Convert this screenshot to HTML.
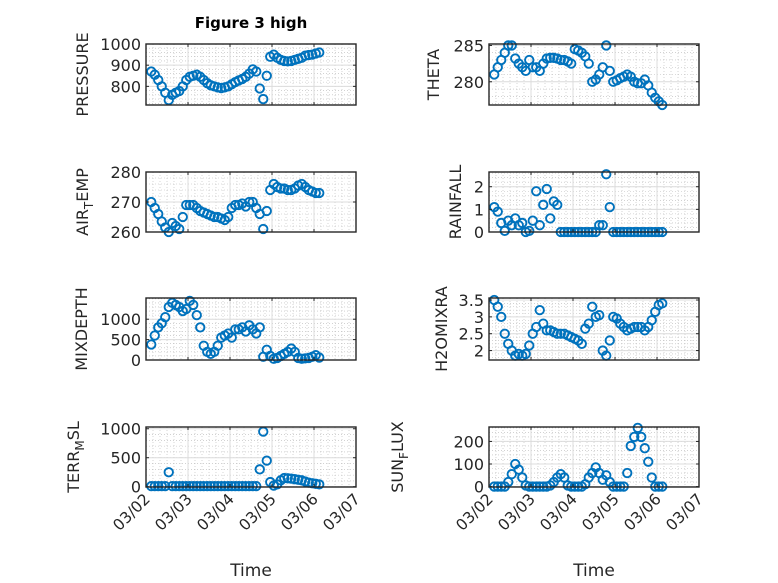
<!DOCTYPE html>
<html><head><meta charset="utf-8"><style>
html,body{margin:0;padding:0;background:#fff;}
svg{display:block;font-family:"DejaVu Sans","Liberation Sans",sans-serif;}
</style></head><body>
<svg id="fig" width="778" height="583" viewBox="0 0 778 583">
<rect width="778" height="583" fill="#fff"/>
<text x="251" y="28" text-anchor="middle" font-size="15" font-weight="bold" fill="#000">Figure 3 high</text>
</svg>
<script>
const tickLabels = ["03/02","03/03","03/04","03/05","03/06","03/07"];
const tStart = 0.125, tStep = 1/12;
const pressure = [870,855,830,800,770,735,760,770,778,800,830,845,850,855,845,830,815,805,800,795,792,795,800,810,820,828,835,845,860,880,870,790,740,850,940,950,935,925,920,918,920,925,930,935,945,948,950,955,960];
const theta = [281,282,283,284,285,285,283.2,282.5,282,281.5,283,282,282,281.5,282.5,283.2,283.3,283.3,283.2,283,283,282.8,282.5,284.5,284.3,284,283.5,282.5,280,280.3,281,282,285,281.5,280,280.2,280.5,280.7,281,280.7,280,279.8,279.8,280.3,279.5,278.5,277.8,277.3,276.8];
const airTemp = [270,268,266,263.5,261.5,260,263,262,261,265,269,269,269,268,267,266.5,266,265.5,265,265,264.5,264,265,268,269,269,269.5,268.5,270,270,268,266,261,267,274,276,275,274.5,274.5,274,274,274.5,275.5,276,275,274,273.5,273,273];
const rainfall = [1.1,0.9,0.4,0.05,0.5,0.3,0.6,0.3,0.4,0,0.05,0.5,1.8,0.3,1.2,1.9,0.6,1.35,1.2,0,0,0,0,0,0,0,0,0,0,0,0.3,0.3,2.55,1.1,0,0,0,0,0,0,0,0,0,0,0,0,0,0,0];
const mixDepth = [380,600,800,900,1050,1300,1400,1350,1300,1200,1250,1450,1350,1100,800,350,200,150,200,350,550,600,650,550,750,750,800,700,850,750,650,800,80,250,100,30,50,100,150,200,280,200,50,30,40,50,80,120,60];
const h2oMix = [3.5,3.3,3.0,2.5,2.2,2.0,1.85,1.9,1.85,1.9,2.15,2.5,2.7,3.2,2.8,2.6,2.6,2.55,2.5,2.5,2.5,2.45,2.4,2.35,2.3,2.2,2.65,2.8,3.3,3.0,3.05,2.0,1.85,2.3,3.0,2.95,2.8,2.7,2.6,2.65,2.7,2.7,2.7,2.6,2.7,2.9,3.15,3.35,3.4];
const terrMsl = [10,10,10,10,10,250,10,10,10,10,10,10,10,10,10,10,10,10,10,10,10,10,10,10,10,10,10,10,10,10,10,300,950,450,80,20,40,110,150,145,140,130,120,110,90,70,60,50,40];
const sunFlux = [0,0,0,0,20,55,100,75,40,5,0,0,0,0,0,0,5,20,40,55,40,5,0,0,0,0,10,40,60,85,60,30,50,20,0,0,0,0,60,180,220,260,220,170,110,40,0,0,0];

const NS="http://www.w3.org/2000/svg";
const svg=document.getElementById('fig');
function mk(tag,attrs,parent){const e=document.createElementNS(NS,tag);for(const k in attrs)e.setAttribute(k,attrs[k]);(parent||svg).appendChild(e);return e;}

const panels=[
 {name:'pressure',data:pressure,x0:146,y0:44,y1:105,ymin:712,ymax:1000,ticks:[800,900,1000],minor:20,label:['PRESSURE'],lx:88,xt:false},
 {name:'theta',data:theta,x0:489,y0:44,y1:105,ymin:276.8,ymax:285.2,ticks:[280,285],minor:1,label:['THETA'],lx:439,xt:false},
 {name:'air-temp',data:airTemp,x0:146,y0:172,y1:232,ymin:260,ymax:280,ticks:[260,270,280],minor:2,label:['AIR','T','EMP'],lx:88,xt:false},
 {name:'rainfall',data:rainfall,x0:489,y0:172,y1:232,ymin:0,ymax:2.65,ticks:[0,1,2],minor:0.2,label:['RAINFALL'],lx:461,xt:false},
 {name:'mixdepth',data:mixDepth,x0:146,y0:298,y1:360,ymin:0,ymax:1520,ticks:[0,500,1000],minor:100,label:['MIXDEPTH'],lx:87,xt:false},
 {name:'h2omixra',data:h2oMix,x0:489,y0:298,y1:360,ymin:1.72,ymax:3.56,ticks:[2,2.5,3,3.5],minor:0.1,label:['H2OMIXRA'],lx:447,xt:false},
 {name:'terr-msl',data:terrMsl,x0:146,y0:427,y1:487,ymin:-5,ymax:1030,ticks:[0,500,1000],minor:100,label:['TERR','M','SL'],lx:79,xt:true},
 {name:'sun-flux',data:sunFlux,x0:489,y0:427,y1:487,ymin:-2,ymax:264,ticks:[0,100,200],minor:20,label:['SUN','F','LUX'],lx:403,xt:true}
];
const W=210, DAYS=5;
panels.forEach(p=>{
 const g=mk('g',{});
 
 
 const xs=t=>p.x0+t/DAYS*W;
 const ys=v=>p.y1-(v-p.ymin)/(p.ymax-p.ymin)*(p.y1-p.y0);
 mk('rect',{x:p.x0,y:p.y0,width:W,height:p.y1-p.y0,fill:'#fff'},g);
 for(let d=0;d<DAYS;d++)for(let k=1;k<6;k++){const x=xs(d+k/6);mk('line',{x1:x,x2:x,y1:p.y0,y2:p.y1,stroke:'#b8b8b8','stroke-width':0.6,'stroke-dasharray':'1 2'},g);}
 for(let v=Math.ceil(p.ymin/p.minor)*p.minor;v<p.ymax;v+=p.minor){const y=ys(v);mk('line',{x1:p.x0,x2:p.x0+W,y1:y,y2:y,stroke:'#b8b8b8','stroke-width':0.6,'stroke-dasharray':'1 2'},g);}
 for(let d=1;d<DAYS;d++){const x=xs(d);mk('line',{x1:x,x2:x,y1:p.y0,y2:p.y1,stroke:'#dcdcdc','stroke-width':1},g);}
 p.ticks.forEach(v=>{const y=ys(v);mk('line',{x1:p.x0,x2:p.x0+W,y1:y,y2:y,stroke:'#dcdcdc','stroke-width':1},g);});
 const mg=mk('g',{},g);
 
 
 p.data.forEach((v,i)=>{const c=mk('circle',{cx:xs(tStart+i*tStep),cy:ys(v),r:4.2,fill:'none',stroke:'#0072BD','stroke-width':1.9},mg);
  
  });
 mk('rect',{x:p.x0,y:p.y0,width:W,height:p.y1-p.y0,fill:'none',stroke:'#262626','stroke-width':1.4},g);
 for(let d=0;d<=DAYS;d++){const x=xs(d);mk('line',{x1:x,x2:x,y1:p.y1,y2:p.y1-3,stroke:'#262626'},g);mk('line',{x1:x,x2:x,y1:p.y0,y2:p.y0+3,stroke:'#262626'},g);
  if(p.xt){const t=mk('text',{x:x+5,y:p.y1+13,'text-anchor':'end','font-size':15.5,fill:'#262626',transform:`rotate(-45 ${x+5} ${p.y1+13})`},g);t.textContent=tickLabels[d];
   
   }}
 p.ticks.forEach(v=>{const y=ys(v);mk('line',{x1:p.x0,x2:p.x0+3,y1:y,y2:y,stroke:'#262626'},g);mk('line',{x1:p.x0+W,x2:p.x0+W-3,y1:y,y2:y,stroke:'#262626'},g);
  const t=mk('text',{x:p.x0-5,y:y+6,'text-anchor':'end','font-size':16,fill:'#262626'},g);t.textContent=String(v);
  
  });
 const cy=(p.y0+p.y1)/2;
 const lt=mk('text',{x:p.lx,y:cy,'text-anchor':'middle','font-size':16,fill:'#262626',transform:`rotate(-90 ${p.lx} ${cy})`},g);
 
 
 if(p.label.length===1){lt.textContent=p.label[0];}
 else{const a=mk('tspan',{},lt);a.textContent=p.label[0];
  const b=mk('tspan',{dy:5,'font-size':12},lt);b.textContent=p.label[1];
  const c=mk('tspan',{dy:-5},lt);c.textContent=p.label[2];}
 if(p.xt){const xl=mk('text',{x:p.x0+W/2,y:576,'text-anchor':'middle','font-size':17,fill:'#262626'},g);xl.textContent='Time';
  
  }
});
</script>
</body></html>
